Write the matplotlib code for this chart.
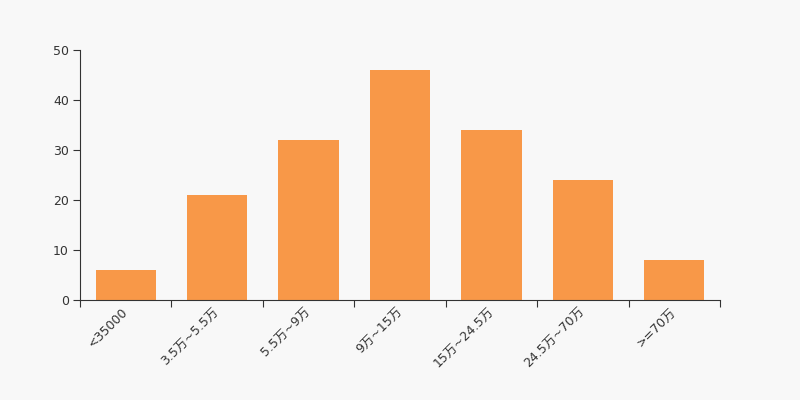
import numpy as np
import matplotlib
matplotlib.use("Agg")
import matplotlib.pyplot as plt
from matplotlib.transforms import ScaledTranslation

plt.rcParams['font.family'] = ['DejaVu Sans', 'Noto Sans CJK SC']

# income brackets and counts
categories = ["<35000", "3.5万~5.5万", "5.5万~9万", "9万~15万",
              "15万~24.5万", "24.5万~70万", ">=70万"]
counts = [6, 21, 32, 46, 34, 24, 8]
y_ticks = [0, 10, 20, 30, 40, 50]

bg = "#f8f8f8"
bar_color = "#f89848"
axis_color = "#333333"

fig = plt.figure(figsize=(8, 4), dpi=100, facecolor=bg)
ax = fig.add_axes([0.1, 0.25, 0.8, 0.625], facecolor=bg)

x = np.arange(len(categories))
ax.bar(x, counts, width=0.66, color=bar_color, zorder=2)

ax.set_xlim(-0.5, len(categories) - 0.5)
ax.set_ylim(0, 50)
ax.set_yticks(y_ticks)

# ticks on category boundaries, labels at centres
ax.set_xticks(np.arange(-0.5, len(categories)), minor=False)
ax.set_xticklabels([])
ax.set_xticks(x, minor=True)
ax.set_xticklabels(categories, minor=True, rotation=45, ha='right', va='top',
                   rotation_mode='anchor', fontsize=9, color=axis_color)
ax.tick_params(axis='x', which='minor', length=0, pad=4)
ax.tick_params(axis='x', which='major', length=5, color=axis_color)
ax.tick_params(axis='y', length=5, color=axis_color, labelsize=9,
               labelcolor=axis_color, pad=3)

# nudge rotated labels a little to the left
shift = ScaledTranslation(-3 / 72, 0, fig.dpi_scale_trans)
for lbl in ax.get_xticklabels(minor=True):
    lbl.set_transform(lbl.get_transform() + shift)

for side in ['top', 'right']:
    ax.spines[side].set_visible(False)
for side in ['left', 'bottom']:
    ax.spines[side].set_color(axis_color)

fig.savefig("out.png", dpi=100, facecolor=bg)
